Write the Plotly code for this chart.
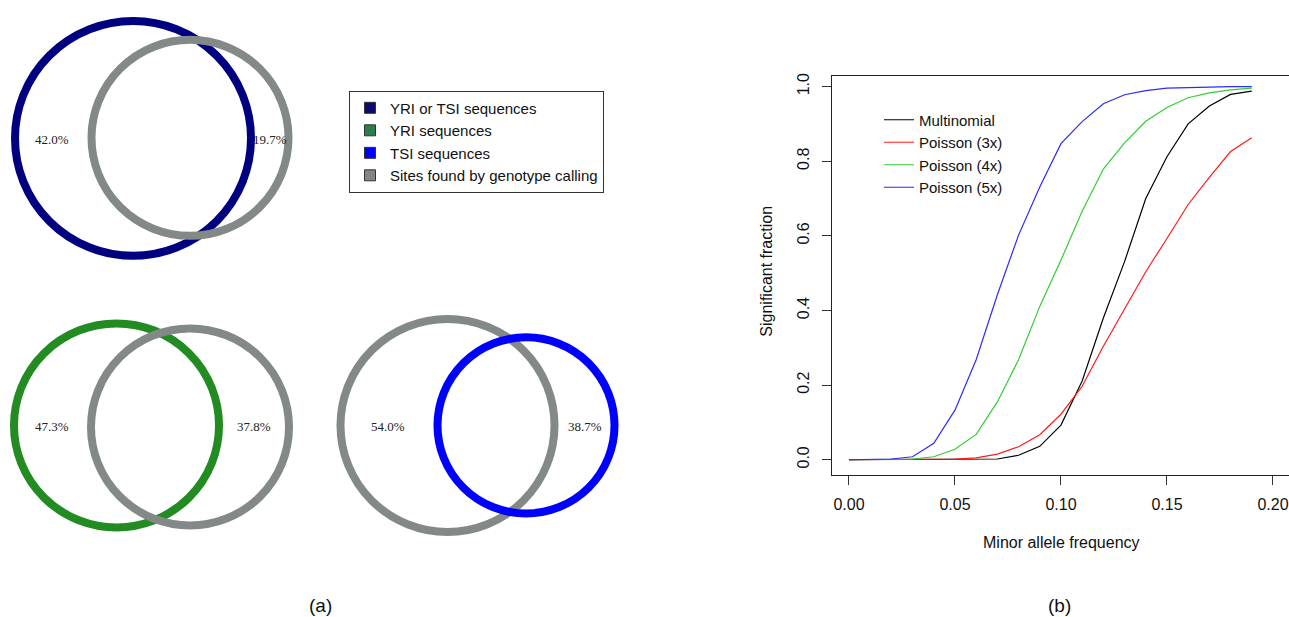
import plotly.graph_objects as go

# ---------------- data ----------------
maf = [0.00, 0.01, 0.02, 0.03, 0.04, 0.05, 0.06, 0.07, 0.08, 0.09,
       0.10, 0.11, 0.12, 0.13, 0.14, 0.15, 0.16, 0.17, 0.18, 0.19]
multinomial = [0.0, 0.0, 0.0, 0.0, 0.0, 0.0, 0.001, 0.002, 0.012, 0.036,
               0.093, 0.211, 0.380, 0.531, 0.700, 0.812, 0.900, 0.948, 0.979, 0.988]
poisson3 = [0.0, 0.0, 0.0, 0.0, 0.0005, 0.002, 0.005, 0.015, 0.035, 0.067,
            0.122, 0.197, 0.304, 0.404, 0.504, 0.593, 0.684, 0.757, 0.826, 0.863]
poisson4 = [0.0, 0.0, 0.0, 0.002, 0.008, 0.028, 0.068, 0.155, 0.268, 0.411,
            0.535, 0.666, 0.779, 0.849, 0.907, 0.944, 0.970, 0.983, 0.991, 0.996]
poisson5 = [0.0, 0.0, 0.002, 0.008, 0.044, 0.133, 0.268, 0.442, 0.602, 0.731,
            0.847, 0.906, 0.954, 0.978, 0.989, 0.996, 0.998, 0.999, 1.0, 1.0]
series_names = ["Multinomial", "Poisson (3x)", "Poisson (4x)", "Poisson (5x)"]
x_ticks = [0.00, 0.05, 0.10, 0.15, 0.20]
x_ticklabels = ["0.00", "0.05", "0.10", "0.15", "0.20"]
y_ticks = [0.0, 0.2, 0.4, 0.6, 0.8, 1.0]
y_ticklabels = ["0.0", "0.2", "0.4", "0.6", "0.8", "1.0"]

venn_legend = ["YRI or TSI sequences", "YRI sequences", "TSI sequences",
               "Sites found by genotype calling"]
venn_left_labels = ["42.0%", "47.3%", "54.0%"]
venn_right_labels = ["19.7%", "37.8%", "38.7%"]

# ---------------- styling / geometry ----------------
W, H = 1289, 617
NAVY, GREEN, BLUE, GREY = "#000080", "#228b22", "#0000ff", "#838987"
line_colors = ["#000000", "#ff1a1a", "#33cc33", "#2a2aff"]
legend_sq_colors = ["#0a0a70", "#2e7d4f", "#0000ff", "#7f8684"]

# circles: (cx, cy, r_mid, color) in pixel units of the hidden left axes
circles = [
    (133, 136, 118, NAVY), (190, 135.5, 98.5, GREY),
    (116.5, 424.5, 102.5, GREEN), (190, 426, 99, GREY),
    (447.5, 424.5, 107, GREY), (526, 424.5, 88.5, BLUE),
]
left_label_pos = [(52, 137), (52, 426), (388, 426)]
right_label_pos = [(270, 137), (254, 426), (585, 426)]

fig = go.Figure()

# Legend entries for the Venn panel
for name, col in zip(venn_legend, legend_sq_colors):
    fig.add_trace(go.Scatter(
        x=[None], y=[None], mode="markers", name=name, legend="legend",
        marker=dict(symbol="square", size=11, color=col,
                    line=dict(color="#333333", width=1)),
        xaxis="x", yaxis="y"))

# Line chart
for name, ys, col in zip(series_names,
                         [multinomial, poisson3, poisson4, poisson5],
                         line_colors):
    fig.add_trace(go.Scatter(
        x=maf, y=ys, mode="lines", name=name, legend="legend2",
        line=dict(color=col, width=1.2), xaxis="x2", yaxis="y2"))

shapes = []
for cx, cy, r, col in circles:
    shapes.append(dict(type="circle", xref="x", yref="y",
                       x0=cx - r, x1=cx + r, y0=cy - r, y1=cy + r,
                       line=dict(color=col, width=8), layer="above"))

annotations = []
for txt, (x, y) in zip(venn_left_labels + venn_right_labels,
                       left_label_pos + right_label_pos):
    annotations.append(dict(text=txt, x=x, y=y, xref="x", yref="y",
                            showarrow=False, xanchor="center",
                            yanchor="middle",
                            font=dict(family="Liberation Serif", size=13,
                                      color="#222222")))

sans = "Liberation Sans, Arial, Helvetica, sans-serif"
common = dict(xref="paper", yref="paper", showarrow=False,
              xanchor="center", yanchor="middle")
annotations += [
    dict(text="(a)", x=320 / W, y=1 - 605 / H,
         font=dict(family=sans, size=19, color="#111111"), **common),
    dict(text="(b)", x=1059 / W, y=1 - 605 / H,
         font=dict(family=sans, size=19, color="#111111"), **common),
    dict(text="Minor allele frequency", x=1061 / W, y=1 - 542 / H,
         font=dict(family=sans, size=16, color="#111111"), **common),
    dict(text="Significant fraction", x=767 / W, y=1 - 270 / H,
         textangle=-90,
         font=dict(family=sans, size=16, color="#111111"), **common),
]

fig.update_layout(
    width=W, height=H, margin=dict(l=0, r=0, t=0, b=0),
    paper_bgcolor="white", plot_bgcolor="white",
    font=dict(family=sans, size=16, color="#111111"),
    xaxis=dict(domain=[0, 640 / W], range=[0, 640], visible=False,
               fixedrange=True),
    yaxis=dict(domain=[0, 1], range=[H, 0], visible=False, fixedrange=True),
    xaxis2=dict(domain=[832 / W, 1.0], range=[-0.008, 0.20757],
                anchor="y2", tickmode="array", tickvals=x_ticks,
                ticktext=x_ticklabels, ticks="outside", ticklen=9,
                tickcolor="#333333", showline=True, linecolor="#222222",
                linewidth=1, mirror=True, showgrid=False, zeroline=False,
                ticklabelstandoff=6,
                tickfont=dict(family=sans, size=16, color="#111111")),
    yaxis2=dict(domain=[1 - 474 / H, 1 - 73 / H], range=[-0.04, 1.0293],
                anchor="x2", tickmode="array", tickvals=y_ticks,
                ticktext=y_ticklabels, ticks="outside", ticklen=9,
                tickcolor="#333333", showline=True, linecolor="#222222",
                linewidth=1, mirror=False, showgrid=False, zeroline=False,
                tickangle=-90, ticklabelstandoff=7,
                tickfont=dict(family=sans, size=16, color="#111111")),
    legend=dict(x=349 / W, y=1 - 88 / H, xanchor="left", yanchor="top",
                bgcolor="white", bordercolor="#333333", borderwidth=1,
                font=dict(family=sans, size=15, color="#111111")),
    legend2=dict(x=879 / W, y=1 - 101 / H, xanchor="left", yanchor="top",
                 bgcolor="rgba(0,0,0,0)", borderwidth=0,
                 font=dict(family=sans, size=15, color="#111111")),
    shapes=shapes, annotations=annotations, showlegend=True,
)

fig.write_html("out.html",
               config={"displayModeBar": False},
               post_script="document.body.style.margin='0px';"
                           "document.body.style.overflow='hidden';")
